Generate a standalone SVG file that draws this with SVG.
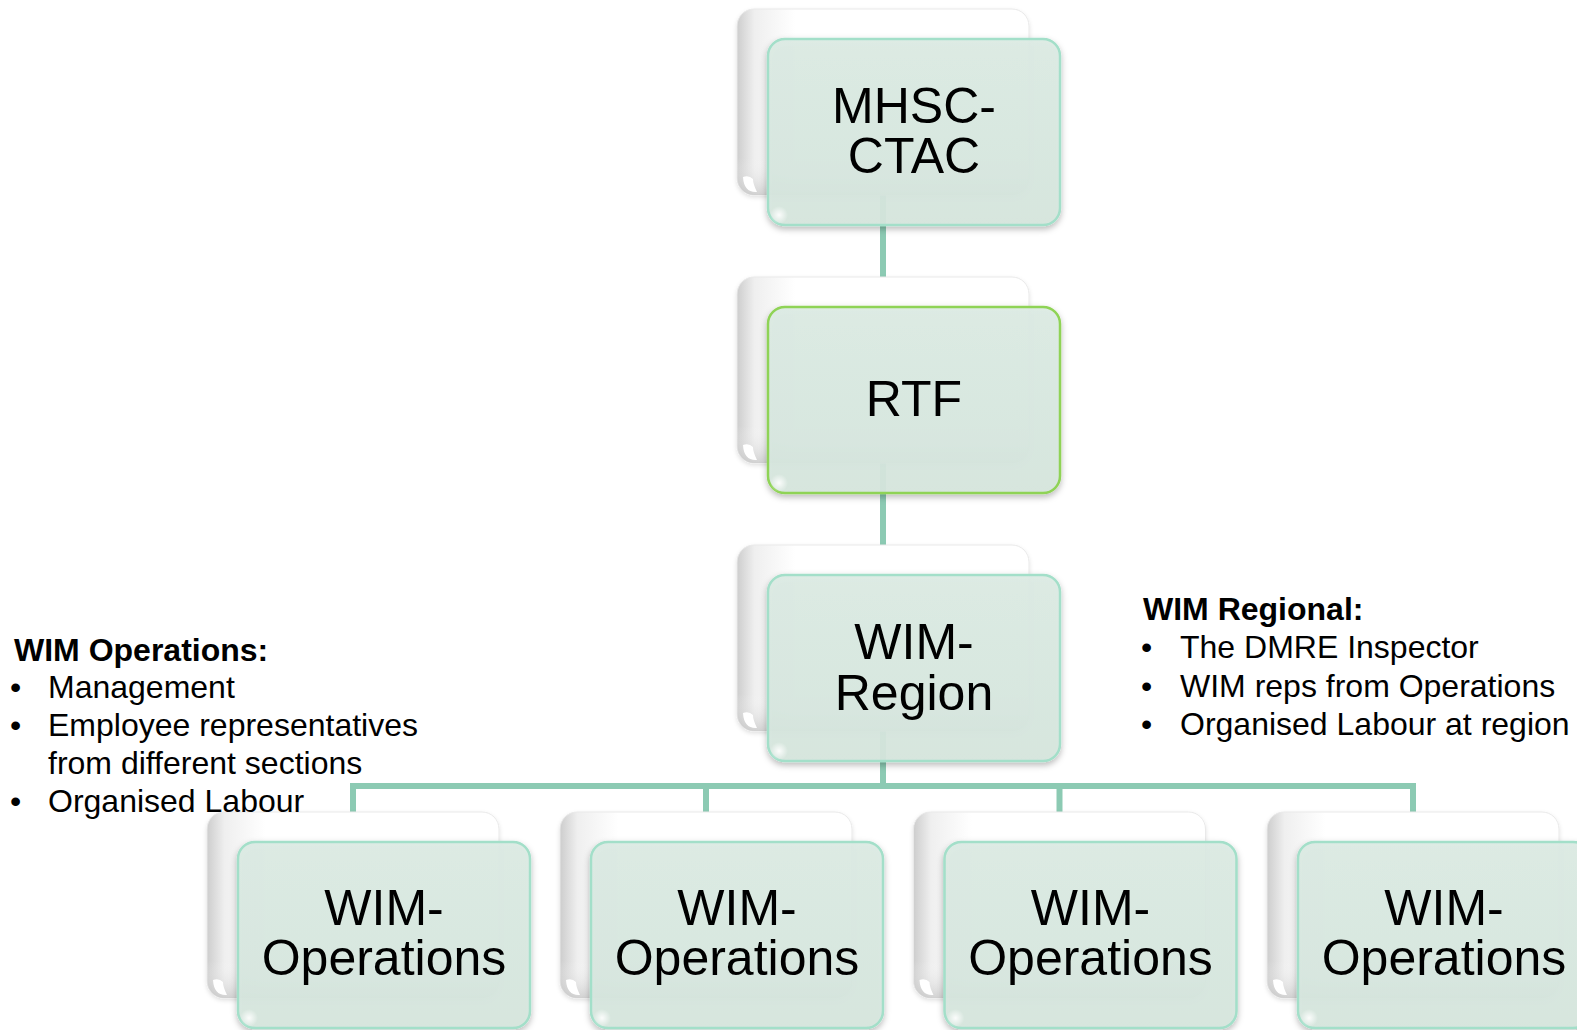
<svg xmlns="http://www.w3.org/2000/svg" width="1577" height="1030" viewBox="0 0 1577 1030">
  <defs>
    <linearGradient id="backH" x1="0" y1="0" x2="1" y2="0">
      <stop offset="0" stop-color="#cdcdcd"/>
      <stop offset="0.06" stop-color="#efefef"/>
      <stop offset="0.2" stop-color="#ffffff"/>
      <stop offset="1" stop-color="#ffffff"/>
    </linearGradient>
    <linearGradient id="backV" x1="0" y1="0" x2="0" y2="1">
      <stop offset="0" stop-color="#ffffff" stop-opacity="0"/>
      <stop offset="0.8" stop-color="#ffffff" stop-opacity="0"/>
      <stop offset="1" stop-color="#bdbdbd" stop-opacity="0.6"/>
    </linearGradient>
    <linearGradient id="frontFill" x1="0" y1="0" x2="0" y2="1">
      <stop offset="0" stop-color="#dcebe4"/>
      <stop offset="1" stop-color="#d6e6de"/>
    </linearGradient>
    <radialGradient id="blobGrad" cx="0.5" cy="0.5" r="0.5">
      <stop offset="0" stop-color="#ffffff" stop-opacity="0.9"/>
      <stop offset="1" stop-color="#ffffff" stop-opacity="0"/>
    </radialGradient>
    <filter id="shadow" x="-10%" y="-10%" width="120%" height="125%">
      <feDropShadow dx="0" dy="3" stdDeviation="3" flood-color="#000000" flood-opacity="0.28"/>
    </filter>
    <filter id="softShadow" x="-10%" y="-10%" width="120%" height="125%">
      <feDropShadow dx="0" dy="2" stdDeviation="2" flood-color="#000000" flood-opacity="0.12"/>
    </filter>
    <g id="card">
      <g filter="url(#softShadow)">
        <rect x="0" y="0" width="292" height="186" rx="17" fill="url(#backH)" stroke="#e9e9e9" stroke-width="1"/>
        <rect x="0" y="0" width="292" height="186" rx="17" fill="url(#backV)"/>
      </g>
      <path d="M6 168 Q7 184 20 183 Q16 175 16 170 Q12 166 6 168 Z" fill="#ffffff"/>
    </g>
  </defs>
  <style>
    .conn { fill: none; stroke: #8ccab3; stroke-width: 6; }
    .front { fill: url(#frontFill); fill-opacity: 0.93; stroke: #a3dfc9; stroke-width: 2.5; }
    .front.rtf { stroke: #8fd356; }
    .blob { fill: url(#blobGrad); }
    .label { font-family: "Liberation Sans", Arial, sans-serif; font-size: 50px; fill: #000000; text-anchor: middle; }
    .side { font-family: "Liberation Sans", Arial, sans-serif; font-size: 32px; fill: #000000; }
    .side .hd { font-weight: bold; }
  </style>

  <rect width="1577" height="1030" fill="#ffffff"/>

  <g id="connectors">
    <path class="conn" d="M883 195 V277"/>
    <path class="conn" d="M883 462 V545"/>
    <path class="conn" d="M883 730 V786"/>
    <path class="conn" d="M353 812 V786 H1413 V812"/>
    <path class="conn" d="M706 786 V812"/>
    <path class="conn" d="M1059.5 786 V812"/>
  </g>

  <g id="node-mhsc">
    <use href="#card" x="737" y="9"/>
    <rect class="front" x="768" y="39" width="292" height="186" rx="17" filter="url(#shadow)"/>
    <ellipse class="blob" cx="779" cy="215" rx="9" ry="9"/>
    <text class="label" x="914" y="123">MHSC-</text>
    <text class="label" x="914" y="173">CTAC</text>
  </g>

  <g id="node-rtf">
    <use href="#card" x="737" y="277"/>
    <rect class="front rtf" x="768" y="307" width="292" height="186" rx="17" filter="url(#shadow)"/>
    <ellipse class="blob" cx="779" cy="483" rx="9" ry="9"/>
    <text class="label" x="914" y="416">RTF</text>
  </g>

  <g id="node-region">
    <use href="#card" x="737" y="545"/>
    <rect class="front" x="768" y="575" width="292" height="186" rx="17" filter="url(#shadow)"/>
    <ellipse class="blob" cx="779" cy="751" rx="9" ry="9"/>
    <text class="label" x="914" y="659">WIM-</text>
    <text class="label" x="914" y="710">Region</text>
  </g>

  <g id="node-ops1">
    <use href="#card" x="207" y="812"/>
    <rect class="front" x="238" y="842" width="292" height="186" rx="17" filter="url(#shadow)"/>
    <ellipse class="blob" cx="249" cy="1018" rx="9" ry="9"/>
    <text class="label" x="384" y="925">WIM-</text>
    <text class="label" x="384" y="975">Operations</text>
  </g>

  <g id="node-ops2">
    <use href="#card" x="560" y="812"/>
    <rect class="front" x="591" y="842" width="292" height="186" rx="17" filter="url(#shadow)"/>
    <ellipse class="blob" cx="602" cy="1018" rx="9" ry="9"/>
    <text class="label" x="737" y="925">WIM-</text>
    <text class="label" x="737" y="975">Operations</text>
  </g>

  <g id="node-ops3">
    <use href="#card" x="913.5" y="812"/>
    <rect class="front" x="944.5" y="842" width="292" height="186" rx="17" filter="url(#shadow)"/>
    <ellipse class="blob" cx="955.5" cy="1018" rx="9" ry="9"/>
    <text class="label" x="1090.5" y="925">WIM-</text>
    <text class="label" x="1090.5" y="975">Operations</text>
  </g>

  <g id="node-ops4">
    <use href="#card" x="1267" y="812"/>
    <rect class="front" x="1298" y="842" width="292" height="186" rx="17" filter="url(#shadow)"/>
    <ellipse class="blob" cx="1309" cy="1018" rx="9" ry="9"/>
    <text class="label" x="1444" y="925">WIM-</text>
    <text class="label" x="1444" y="975">Operations</text>
  </g>

  <g id="note-operations" class="side">
    <text class="hd" x="14" y="661">WIM Operations:</text>
    <text x="10" y="698">•</text>
    <text x="48" y="698">Management</text>
    <text x="10" y="736">•</text>
    <text x="48" y="736">Employee representatives</text>
    <text x="48" y="774">from different sections</text>
    <text x="10" y="812">•</text>
    <text x="48" y="812">Organised Labour</text>
  </g>

  <g id="note-regional" class="side">
    <text class="hd" x="1143" y="620">WIM Regional:</text>
    <text x="1141" y="658">•</text>
    <text x="1180" y="658">The DMRE Inspector</text>
    <text x="1141" y="697">•</text>
    <text x="1180" y="697">WIM reps from Operations</text>
    <text x="1141" y="735">•</text>
    <text x="1180" y="735">Organised Labour at region</text>
  </g>
</svg>
